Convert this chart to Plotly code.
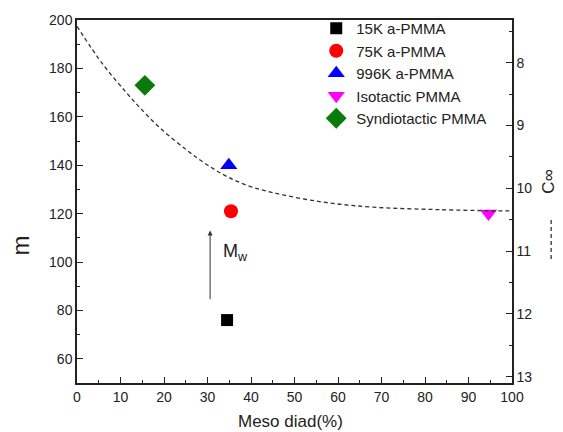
import plotly.graph_objects as go

# Data points (meso diad %, m)
names = ["15K a-PMMA", "75K a-PMMA", "996K a-PMMA", "Isotactic PMMA", "Syndiotactic PMMA"]
meso = [34.5, 35.4, 34.9, 94.6, 15.6]
m_vals = [76, 121, 140, 120, 173]
symbols = ["square", "circle", "triangle-up", "triangle-down", "diamond"]
colors = ["#000000", "#ff0000", "#0000ff", "#ff00ff", "#0a7a0a"]
sizes = [12, 14, 15, 15, 16]

# Dashed curve for C_inf (right axis)
curve_x = [0, 6.0, 11.4, 14.5, 19.1, 25.2, 29.8, 34.4, 39.4, 45.1, 56.6, 68.1, 83.4, 98.0, 100]
curve_c = [7.42, 8.03, 8.48, 8.72, 9.04, 9.39, 9.62, 9.81, 9.96, 10.07, 10.22, 10.30, 10.34, 10.36, 10.36]

x_ticks = [0, 10, 20, 30, 40, 50, 60, 70, 80, 90, 100]
y_ticks = [60, 80, 100, 120, 140, 160, 180, 200]
y2_ticks = [8, 9, 10, 11, 12, 13]

fig = go.Figure()

fig.add_trace(go.Scatter(
    x=curve_x, y=curve_c, yaxis="y2", mode="lines", showlegend=False,
    line=dict(color="#333333", width=1.3, dash="4px,3px", shape="spline", smoothing=1.0),
))

for n, xv, yv, s, c, sz in zip(names, meso, m_vals, symbols, colors, sizes):
    fig.add_trace(go.Scatter(
        x=[xv], y=[yv], mode="markers", name=n,
        marker=dict(symbol=s, color=c, size=sz, line=dict(width=0)),
    ))

axis_font = dict(family="Liberation Sans, Arial, sans-serif", size=14, color="#222")

fig.update_layout(
    width=555, height=424,
    margin=dict(l=69, r=51, t=12, b=49, autoexpand=False),
    paper_bgcolor="white", plot_bgcolor="white",
    font=dict(family="Liberation Sans, Arial, sans-serif", color="#222"),
    xaxis=dict(
        range=[0, 100], tickvals=x_ticks, ticks="inside", ticklen=6, tickwidth=1.2,
        tickcolor="#222", showline=True, linecolor="#222", linewidth=1.5, mirror=True,
        showgrid=False, zeroline=False, tickfont=axis_font,
        minor=dict(dtick=5, ticks="inside", ticklen=3, tickcolor="#222"),
    ),
    yaxis=dict(
        range=[50, 200], tickvals=y_ticks, ticks="inside", ticklen=6, tickwidth=1.2,
        tickcolor="#222", showline=True, linecolor="#222", linewidth=1.5,
        showgrid=False, zeroline=False, tickfont=axis_font,
        minor=dict(dtick=10, ticks="inside", ticklen=3, tickcolor="#222"),
    ),
    yaxis2=dict(
        range=[13.1, 7.32], overlaying="y", side="right", tickvals=y2_ticks,
        ticks="inside", ticklen=6, tickwidth=1.2, tickcolor="#222",
        showline=True, linecolor="#222", linewidth=1.5, showgrid=False,
        zeroline=False, tickfont=axis_font,
        minor=dict(dtick=0.5, ticks="inside", ticklen=3, tickcolor="#222"),
    ),
    legend=dict(
        x=0.55, y=1.022, xanchor="left", yanchor="top",
        bgcolor="rgba(0,0,0,0)", font=dict(size=15, color="#222"),
        tracegroupgap=0, itemwidth=30,
    ),
    annotations=[
        dict(x=30.6, y=113, ax=30.6, ay=84, xref="x", yref="y", axref="x", ayref="y",
             showarrow=True, arrowhead=2, arrowsize=1, arrowwidth=1, arrowcolor="#333", text=""),
        dict(x=33.0, y=104, xref="x", yref="y", text="M<sub>w</sub>", showarrow=False,
             xanchor="left", yanchor="middle", font=dict(size=18, color="#222")),
        dict(x=0.49, y=-0.107, xref="paper", yref="paper", text="Meso diad(%)",
             showarrow=False, xanchor="center", yanchor="middle", font=dict(size=17, color="#222")),
        dict(x=-0.13, y=0.38, xref="paper", yref="paper", text="m", textangle=-90,
             showarrow=False, xanchor="center", yanchor="middle", font=dict(size=24, color="#222")),
        dict(x=1.083, y=0.555, xref="paper", yref="paper", text="C∞", textangle=-90,
             showarrow=False, xanchor="center", yanchor="middle", font=dict(size=17, color="#222")),
    ],
    shapes=[
        dict(type="line", xref="paper", yref="paper", x0=1.09, x1=1.09, y0=0.449, y1=0.339,
             line=dict(color="#333", width=1.3, dash="4px,3px")),
    ],
)

fig.write_html("out.html")
